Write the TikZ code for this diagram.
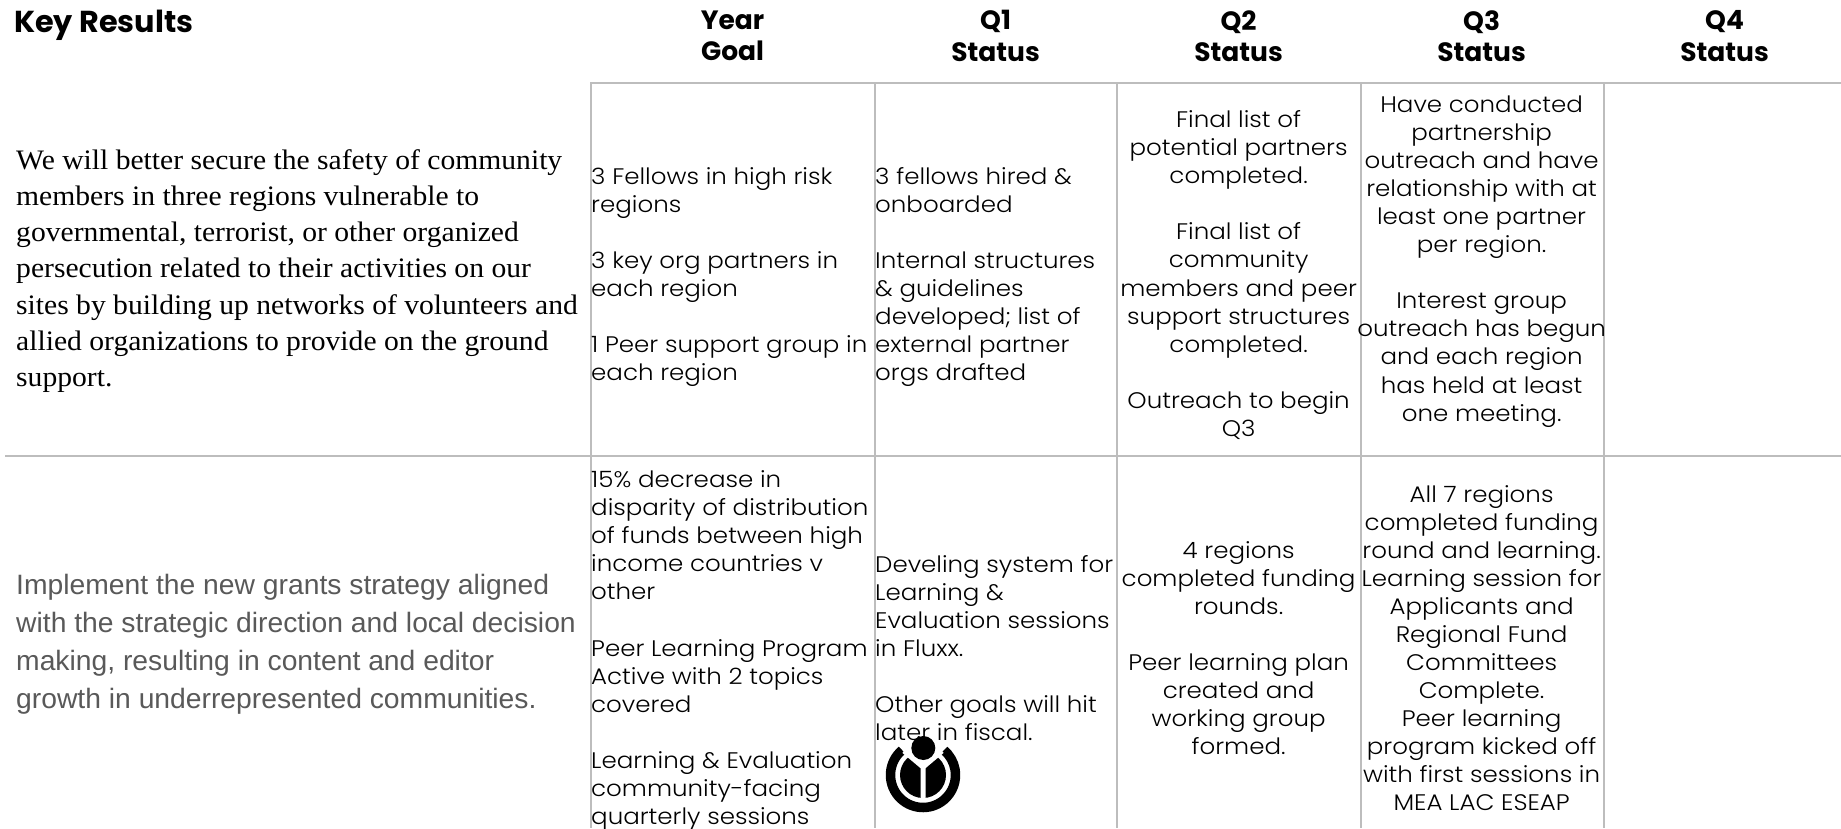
\documentclass[tikz,border=0pt]{standalone}
\usepackage{fontspec}
\setmainfont{Liberation Sans}
\newfontfamily\bodyfont{Poppins Light}[FakeStretch=1.09]
\newfontfamily\headfont{Poppins}
\newfontfamily\serfont{Liberation Serif}[FakeStretch=1.05]
\newfontfamily\robfont{Liberation Sans}[FakeStretch=1.01]
\definecolor{rulecol}{HTML}{BDBDBD}
\definecolor{greytxt}{HTML}{595959}
\tikzset{
  cellrule/.style={draw=rulecol,line width=2pt},
  head/.style={font=\headfont\bfseries\fontsize{26.5}{31.5}\selectfont,align=center,inner sep=0pt,text=black},
  lcell/.style={font=\bodyfont\fontsize{22.5}{28.05}\selectfont,align=left,anchor=west,inner sep=0pt},
  ccell/.style={font=\bodyfont\fontsize{22.5}{28.05}\selectfont,align=center,inner sep=0pt},
  krserif/.style={font=\serfont\fontsize{28.2}{36.2}\selectfont,align=left,anchor=west,inner sep=0pt},
  krsans/.style={font=\robfont\fontsize{28}{38}\selectfont,align=left,anchor=west,inner sep=0pt,text=greytxt},
}
\begin{document}
\begin{tikzpicture}[x=1pt,y=-1pt]
\useasboundingbox (0,0) rectangle (1841,828);
\fill[white] (0,0) rectangle (1841,828);
% rules
\coordinate (t0) at (590.5,82.5); \coordinate (t1) at (1841,82.5);
\coordinate (m0) at (5,456); \coordinate (m1) at (1841,456);
\draw[cellrule] (t0) -- (t1);
\draw[cellrule] (m0) -- (m1);
\foreach \x in {590.5,874.5,1117,1361,1604}{\draw[cellrule] (\x,82) -- (\x,828);}
% headers
\node[head,anchor=west,font=\headfont\bfseries\fontsize{30.3}{31.5}\selectfont] (hk) at (14,25) {Key Results};
\node[head] (hy) at (732.6,36) {Year\\Goal};
\node[head] (h1) at (995.6,36) {Q1\\Status};
\node[head] (h2) at (1238.6,36) {Q2\\Status};
\node[head] (h3) at (1481.6,36) {Q3\\Status};
\node[head] (h4) at (1724.6,36) {Q4\\Status};
% row 1
\node[krserif] (k1) at (16,271) {We will better secure the safety of community\\members in three regions vulnerable to\\governmental, terrorist, or other organized\\persecution related to their activities on our\\sites by building up networks of volunteers and\\allied organizations to provide on the ground\\support.};
\node[lcell] (a1) at (591,277) {3 Fellows in high risk\\regions\\[28.05pt]3 key org partners in\\each region\\[28.05pt]1 Peer support group in\\each region};
\node[lcell] (b1) at (875,277) {3 fellows hired \&\\onboarded\\[28.05pt]Internal structures\\\& guidelines\\developed; list of\\external partner\\orgs drafted};
\node[ccell] (c1) at (1238.6,275) {Final list of\\potential partners\\completed.\\[28.05pt]Final list of\\community\\members and peer\\support structures\\completed.\\[28.05pt]Outreach to begin\\Q3};
\node[ccell] (d1) at (1481.6,261.5) {Have conducted\\partnership\\outreach and have\\relationship with  at\\least one partner\\per region.\\[28.05pt]Interest group\\outreach has begun\\and each region\\has held at least\\one meeting.};
% row 2
\node[krsans] (k2) at (16,644) {Implement the new grants strategy aligned\\with the strategic direction and local decision\\making, resulting in content and editor\\growth in underrepresented communities.};
\node[lcell] (a2) at (591,650.5) {15\% decrease in\\disparity of distribution\\of funds between high\\income countries  v\\other\\[28.05pt]Peer Learning Program\\Active with 2 topics\\covered\\[28.05pt]Learning \& Evaluation\\community-facing\\quarterly sessions};
\node[lcell] (b2) at (875,648) {Develing system for\\Learning \&\\Evaluation sessions\\in Fluxx.\\[28.05pt]Other goals will hit\\later in fiscal.};
\node[ccell] (c2) at (1238.6,648) {4 regions\\completed funding\\rounds.\\[28.05pt]Peer learning plan\\created and\\working group\\formed.};
\node[ccell] (d2) at (1481.6,648) {All 7 regions\\completed funding\\round and learning.\\Learning session for\\Applicants and\\Regional Fund\\Committees\\Complete.\\Peer learning\\program kicked off\\with first sessions in\\MEA LAC ESEAP};
% logo
\draw[line width=9.5pt,black] (923,775) ++(-130:32.5) arc[start angle=-130,end angle=-410,radius=32.5];
\fill[black] (923,775) circle[radius=23];
\fill[white] (923,767) -- (901,747) -- (945,747) -- cycle;
\draw[white,line width=5pt] (923,800) -- (923,767) -- (904,751);
\draw[white,line width=5pt] (923,767) -- (942,751);
\fill[black] (923.3,748) circle[radius=12];
\end{tikzpicture}
\end{document}
